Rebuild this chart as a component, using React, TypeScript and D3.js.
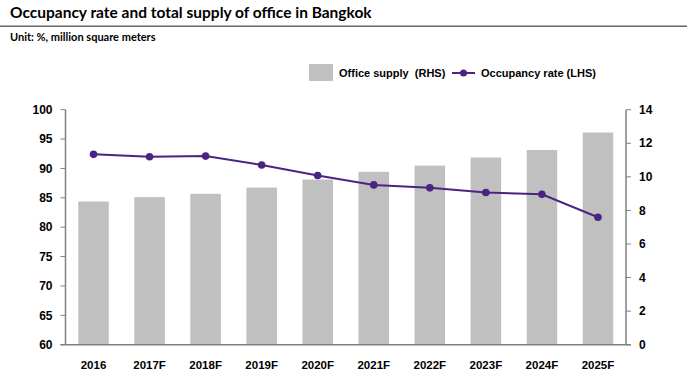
import React from "react";
import * as d3 from "d3";

const categories = ["2016", "2017F", "2018F", "2019F", "2020F", "2021F", "2022F", "2023F", "2024F", "2025F"];
const supply = [8.53, 8.79, 8.99, 9.36, 9.84, 10.3, 10.67, 11.15, 11.6, 12.64];
const occupancy = [92.4, 92.0, 92.1, 90.6, 88.8, 87.2, 86.7, 85.9, 85.6, 81.7];
const leftTicks = [60, 65, 70, 75, 80, 85, 90, 95, 100];
const rightTicks = [0, 2, 4, 6, 8, 10, 12, 14];

const W = 699, H = 380;
const X0 = 65.5, X1 = 626, YT = 109.7, YB = 344.7;
const PURPLE = "#4b2483";
const AXIS = "#808080";
const tickFont = "'Liberation Sans', Arial, sans-serif";

export default function App() {
  const x = d3.scaleBand<string>().domain(categories).range([X0, X1]).paddingInner(0.455).paddingOuter(0.2275);
  const yL = d3.scaleLinear().domain([60, 100]).range([YB, YT]);
  const yR = d3.scaleLinear().domain([0, 14]).range([YB, YT]);
  const cx = (c: string) => (x(c) as number) + x.bandwidth() / 2;
  const line = d3.line<number>().x((_, i) => cx(categories[i])).y((d) => yL(d));

  return (
    <svg width={W} height={H} style={{ position: "absolute", left: 0, top: 0, background: "#fff" }}>
      <rect width={W} height={H} fill="#fff" />
      <text x={10} y={18} fontFamily="Lato, 'Open Sans', sans-serif" fontWeight="bold" fontSize={15.5} fill="#000">
        Occupancy rate and total supply of office in Bangkok
      </text>
      <line x1={0} x2={687} y1={26.3} y2={26.3} stroke="#666" strokeWidth={1.5} />
      <text x={10} y={41} fontFamily="Lato, 'Open Sans', sans-serif" fontWeight="bold" fontSize={11} fill="#000">
        Unit: %, million square meters
      </text>

      {/* legend */}
      <rect x={309} y={64} width={24} height={17} fill="#c0c0c0" />
      <text x={339} y={77} fontFamily={tickFont} fontWeight="bold" fontSize={11} fill="#000" xmlSpace="preserve">
        Office supply  (RHS)
      </text>
      <line x1={452} x2={475} y1={73} y2={73} stroke={PURPLE} strokeWidth={2} />
      <circle cx={463.5} cy={73} r={3.5} fill={PURPLE} />
      <text x={481} y={77} fontFamily={tickFont} fontWeight="bold" fontSize={11} fill="#000">
        Occupancy rate (LHS)
      </text>

      {/* bars */}
      {categories.map((c, i) => (
        <rect key={c} x={x(c)} y={yR(supply[i])} width={x.bandwidth()} height={YB - yR(supply[i])} fill="#c0c0c0" />
      ))}

      {/* axes */}
      <line x1={X0} x2={X0} y1={YT} y2={YB} stroke={AXIS} strokeWidth={1.5} />
      <line x1={X1} x2={X1} y1={YT} y2={YB} stroke={AXIS} strokeWidth={1.5} />
      <line x1={X0 - 5} x2={X1 + 5} y1={YB} y2={YB} stroke={AXIS} strokeWidth={1.5} />
      {leftTicks.map((t) => (
        <g key={"l" + t}>
          <line x1={X0 - 5} x2={X0} y1={yL(t)} y2={yL(t)} stroke={AXIS} strokeWidth={1} />
          <text x={52.5} y={yL(t)} dy="0.35em" textAnchor="end" fontFamily={tickFont} fontWeight="bold" fontSize={12} fill="#000">
            {t}
          </text>
        </g>
      ))}
      {rightTicks.map((t) => (
        <g key={"r" + t}>
          <line x1={X1} x2={X1 + 5} y1={yR(t)} y2={yR(t)} stroke={AXIS} strokeWidth={1} />
          <text x={639} y={yR(t)} dy="0.35em" textAnchor="start" fontFamily={tickFont} fontWeight="bold" fontSize={12} fill="#000">
            {t}
          </text>
        </g>
      ))}
      {categories.map((c) => (
        <text key={"x" + c} x={cx(c)} y={365} dy="0.35em" textAnchor="middle" fontFamily={tickFont} fontWeight="bold" fontSize={11.5} fill="#000">
          {c}
        </text>
      ))}

      {/* line */}
      <path d={line(occupancy) as string} fill="none" stroke={PURPLE} strokeWidth={2} />
      {occupancy.map((v, i) => (
        <circle key={"p" + i} cx={cx(categories[i])} cy={yL(v)} r={3.8} fill={PURPLE} />
      ))}
    </svg>
  );
}
